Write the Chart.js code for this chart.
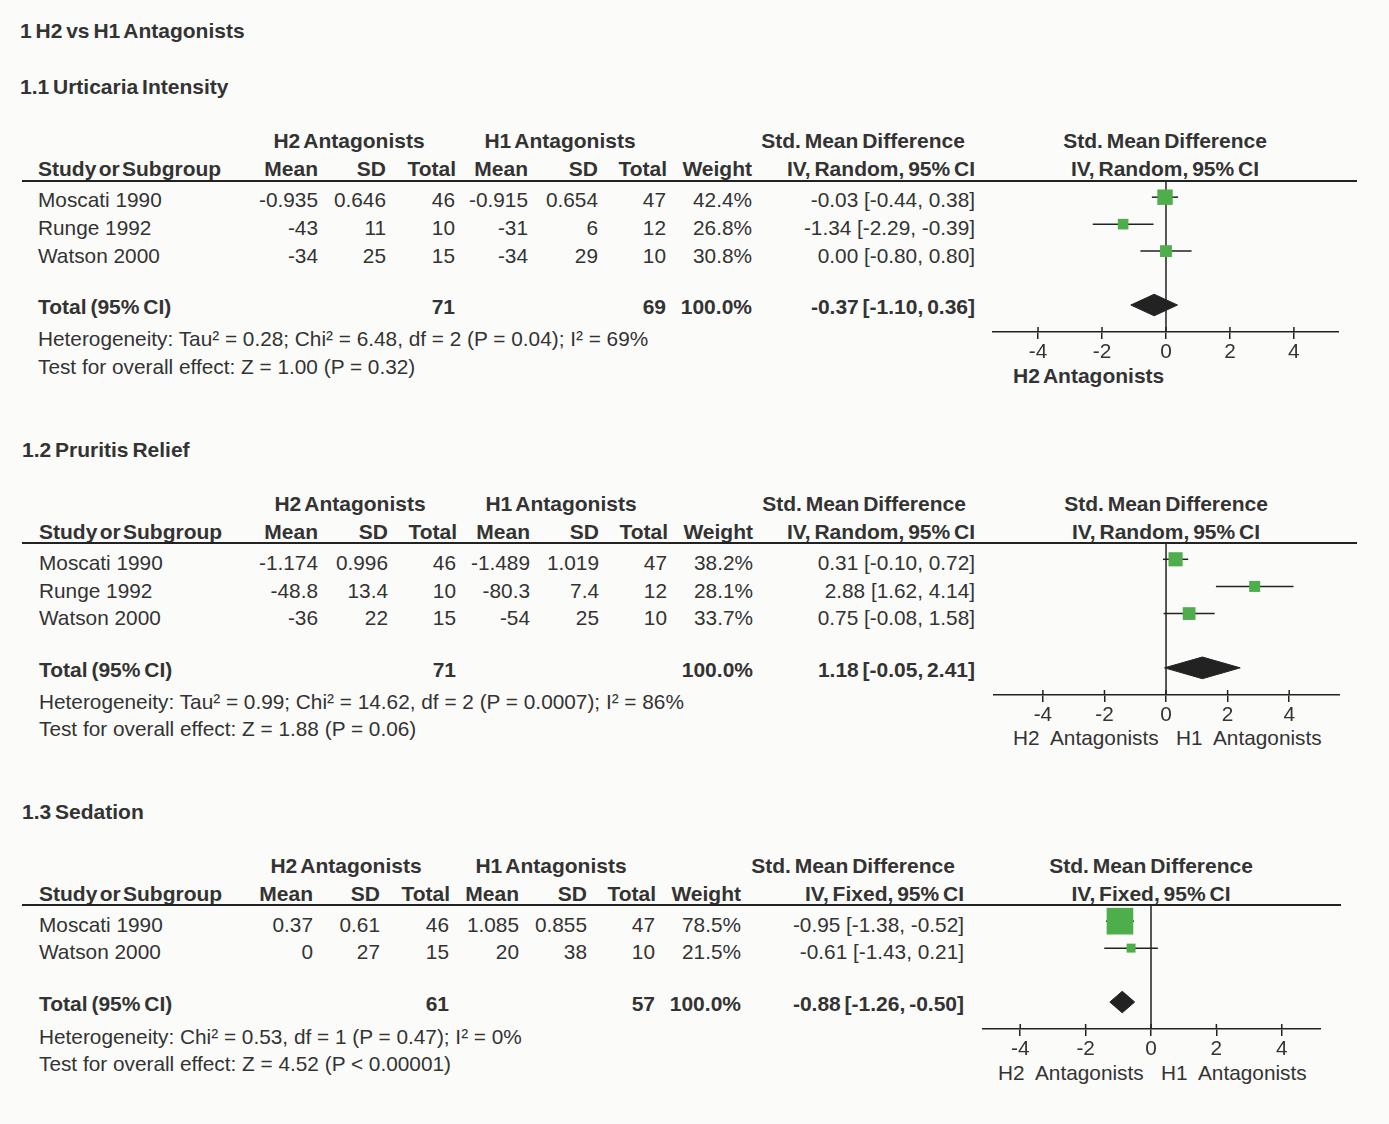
<!DOCTYPE html>
<html>
<head>
<meta charset="utf-8">
<title>H2 vs H1 Antagonists</title>
<script src="https://cdn.jsdelivr.net/npm/chart.js@4.4.1/dist/chart.umd.min.js"></script>
<style>
  html, body { margin: 0; padding: 0; background: #fbfcf9; }
  #page {
    position: relative;
    width: 1389px;
    height: 1124px;
    overflow: hidden;
    font-family: "Liberation Sans", Arial, sans-serif;
    color: #333;
  }
  .t { position: absolute; white-space: pre; font-size: 20.8px; line-height: 24px; }
  .h { font-size: 21px; font-weight: bold; word-spacing: -2px; }
  .b { font-size: 21px; font-weight: bold; word-spacing: -2px; }
  .s { word-spacing: -3.5px; }
  .r { transform: translateX(-100%); }
  .c { transform: translateX(-50%); }
  .rule { position: absolute; height: 2px; background: #222; }
  canvas { position: absolute; }
</style>
</head>
<body>
<div id="page"></div>
<script>
const xTicks = [-4, -2, 0, 2, 4];

// 1.1 Urticaria Intensity
const urtStudies = ['Moscati 1990', 'Runge 1992', 'Watson 2000'];
const urtH2Mean = ['-0.935', '-43', '-34'];
const urtH2SD = ['0.646', '11', '25'];
const urtH2N = ['46', '10', '15'];
const urtH1Mean = ['-0.915', '-31', '-34'];
const urtH1SD = ['0.654', '6', '29'];
const urtH1N = ['47', '12', '10'];
const urtWeight = [42.4, 26.8, 30.8];
const urtSMD = [-0.03, -1.34, 0.00];
const urtLo = [-0.44, -2.29, -0.80];
const urtHi = [0.38, -0.39, 0.80];
const urtTotals = ['71', '69'];
const urtPooled = [-0.37, -1.10, 0.36];

// 1.2 Pruritis Relief
const prStudies = ['Moscati 1990', 'Runge 1992', 'Watson 2000'];
const prH2Mean = ['-1.174', '-48.8', '-36'];
const prH2SD = ['0.996', '13.4', '22'];
const prH2N = ['46', '10', '15'];
const prH1Mean = ['-1.489', '-80.3', '-54'];
const prH1SD = ['1.019', '7.4', '25'];
const prH1N = ['47', '12', '10'];
const prWeight = [38.2, 28.1, 33.7];
const prSMD = [0.31, 2.88, 0.75];
const prLo = [-0.10, 1.62, -0.08];
const prHi = [0.72, 4.14, 1.58];
const prTotals = ['71', ''];
const prPooled = [1.18, -0.05, 2.41];

// 1.3 Sedation
const sedStudies = ['Moscati 1990', 'Watson 2000'];
const sedH2Mean = ['0.37', '0'];
const sedH2SD = ['0.61', '27'];
const sedH2N = ['46', '15'];
const sedH1Mean = ['1.085', '20'];
const sedH1SD = ['0.855', '38'];
const sedH1N = ['47', '10'];
const sedWeight = [78.5, 21.5];
const sedSMD = [-0.95, -0.61];
const sedLo = [-1.38, -1.43];
const sedHi = [-0.52, 0.21];
const sedTotals = ['61', '57'];
const sedPooled = [-0.88, -1.26, -0.50];

const INK = '#222';
const GREEN = '#4fae4c';
const FONT = '"Liberation Sans", Arial, sans-serif';

// box side grows with the study weight
const boxSide = w => 2.3 + 0.31 * w;

const sections = [
  {
    title: '1.1 Urticaria Intensity', method: 'IV, Random, 95% CI',
    studies: urtStudies, cols: [urtH2Mean, urtH2SD, urtH2N, urtH1Mean, urtH1SD, urtH1N],
    weight: urtWeight, smd: urtSMD, lo: urtLo, hi: urtHi, totals: urtTotals, pooled: urtPooled,
    het: 'Heterogeneity: Tau² = 0.28; Chi² = 6.48, df = 2 (P = 0.04); I² = 69%',
    test: 'Test for overall effect: Z = 1.00 (P = 0.32)',
    axisLabel: 'H2 Antagonists', axisBold: true,
    // layout
    titleX: 20, titleY: 87, hdr1Y: 141, hdr2Y: 169, lineY: 181, lineEnd: 1357,
    rowY: [200, 228, 256], totalY: 307, hetY: 339, testY: 367, leftX: 38,
    colX: [318, 386, 455, 528, 598, 666, 752, 975], hdrX: [349, 560, 863, 1165],
    plot: { left: 992, right: 1339, axisY: 332, xMin: -5.44, xMax: 5.41 },
    labelX: 1013, labelY: 376
  },
  {
    title: '1.2 Pruritis Relief', method: 'IV, Random, 95% CI',
    studies: prStudies, cols: [prH2Mean, prH2SD, prH2N, prH1Mean, prH1SD, prH1N],
    weight: prWeight, smd: prSMD, lo: prLo, hi: prHi, totals: prTotals, pooled: prPooled,
    het: 'Heterogeneity: Tau² = 0.99; Chi² = 14.62, df = 2 (P = 0.0007); I² = 86%',
    test: 'Test for overall effect: Z = 1.88 (P = 0.06)',
    axisLabel: 'H2  Antagonists   H1  Antagonists', axisBold: false,
    titleX: 22, titleY: 450, hdr1Y: 504, hdr2Y: 532, lineY: 543, lineEnd: 1357,
    rowY: [563, 591, 618], totalY: 670, hetY: 702, testY: 729, leftX: 39,
    colX: [318, 388, 456, 530, 599, 667, 753, 975], hdrX: [350, 561, 864, 1166],
    plot: { left: 993, right: 1340, axisY: 695, xMin: -5.62, xMax: 5.65 },
    labelX: 1013, labelY: 738
  },
  {
    title: '1.3 Sedation', method: 'IV, Fixed, 95% CI',
    studies: sedStudies, cols: [sedH2Mean, sedH2SD, sedH2N, sedH1Mean, sedH1SD, sedH1N],
    weight: sedWeight, smd: sedSMD, lo: sedLo, hi: sedHi, totals: sedTotals, pooled: sedPooled,
    het: 'Heterogeneity: Chi² = 0.53, df = 1 (P = 0.47); I² = 0%',
    test: 'Test for overall effect: Z = 4.52 (P < 0.00001)',
    axisLabel: 'H2  Antagonists   H1  Antagonists', axisBold: false,
    titleX: 22, titleY: 812, hdr1Y: 866, hdr2Y: 894, lineY: 905, lineEnd: 1341,
    rowY: [925, 952], totalY: 1004, hetY: 1037, testY: 1064, leftX: 39,
    colX: [313, 380, 449, 519, 587, 655, 741, 964], hdrX: [346, 551, 853, 1151],
    plot: { left: 982, right: 1321, axisY: 1029, xMin: -5.17, xMax: 5.2 },
    labelX: 998, labelY: 1073
  }
];

const page = document.getElementById('page');

function text(x, y, s, cls) {
  const d = document.createElement('div');
  d.className = 't ' + (cls || '');
  d.textContent = s;
  d.style.left = x + 'px';
  d.style.top = (y - 12) + 'px';
  page.appendChild(d);
  return d;
}

function rule(x1, x2, y) {
  const d = document.createElement('div');
  d.className = 'rule';
  d.style.left = x1 + 'px';
  d.style.width = (x2 - x1) + 'px';
  d.style.top = (y - 1) + 'px';
  page.appendChild(d);
}

const ci = (m, lo, hi) => `${m.toFixed(2)} [${lo.toFixed(2)}, ${hi.toFixed(2)}]`;

// tick marks crossing the axis line (Chart.js only draws them below)
const crossTicks = {
  id: 'crossTicks',
  afterDraw(chart) {
    const sx = chart.scales.x;
    const ctx = chart.ctx;
    const y = chart.chartArea.bottom;
    ctx.save();
    ctx.strokeStyle = INK;
    ctx.lineWidth = 1.5;
    sx.ticks.forEach(t => {
      const px = sx.getPixelForValue(t.value);
      ctx.beginPath();
      ctx.moveTo(px, y - 5);
      ctx.lineTo(px, y);
      ctx.stroke();
    });
    ctx.restore();
  }
};

function drawForest(s) {
  const P = s.plot;
  const n = s.smd.length;
  const axisH = 34;
  const cv = document.createElement('canvas');
  cv.width = P.right - P.left;
  cv.height = P.axisY - s.lineY + axisH;
  cv.style.left = P.left + 'px';
  cv.style.top = s.lineY + 'px';
  page.appendChild(cv);

  const totalRow = n + 1;
  const h = 0.4;
  const [est, plo, phi] = s.pooled;

  const datasets = [
    {
      data: s.smd.map((v, i) => ({ x: v, y: i })),
      pointStyle: 'rect',
      pointRadius: s.weight.map(w => boxSide(w) / Math.SQRT2),
      backgroundColor: GREEN,
      borderWidth: 0,
      order: 0
    },
    {
      data: [
        { x: plo, y: totalRow }, { x: est, y: totalRow - h },
        { x: phi, y: totalRow }, { x: est, y: totalRow + h }, { x: plo, y: totalRow }
      ],
      showLine: true, fill: 'shape',
      backgroundColor: INK, borderColor: INK, borderWidth: 1,
      pointRadius: 0, order: 1
    }
  ];
  s.smd.forEach((v, i) => {
    datasets.push({
      data: [{ x: s.lo[i], y: i }, { x: s.hi[i], y: i }],
      showLine: true, borderColor: INK, borderWidth: 1.5, pointRadius: 0, order: 2
    });
  });
  datasets.push({
    data: [{ x: 0, y: -0.6 }, { x: 0, y: n + 2 }],
    showLine: true, borderColor: INK, borderWidth: 1.5, pointRadius: 0, order: 3
  });

  new Chart(cv, {
    type: 'scatter',
    data: { datasets },
    options: {
      responsive: false,
      animation: false,
      events: [],
      layout: { autoPadding: false, padding: 0 },
      plugins: { legend: { display: false }, tooltip: { enabled: false } },
      scales: {
        x: {
          type: 'linear',
          min: P.xMin,
          max: P.xMax,
          afterBuildTicks: sc => { sc.ticks = xTicks.map(v => ({ value: v })); },
          afterFit: sc => { sc.height = axisH; },
          ticks: { font: { family: FONT, size: 20.8 }, color: '#333', padding: 1, maxRotation: 0, autoSkip: false },
          grid: { drawOnChartArea: false, tickLength: 7, color: INK, lineWidth: 1.5 },
          border: { display: true, color: INK, width: 1.5 }
        },
        y: { type: 'linear', reverse: true, min: -0.6, max: n + 2, display: false }
      }
    },
    plugins: [crossTicks]
  });
}

text(20, 31, '1 H2 vs H1 Antagonists', 'h');

sections.forEach(s => {
  const C = s.colX;
  text(s.titleX, s.titleY, s.title, 'h');

  text(s.hdrX[0], s.hdr1Y, 'H2 Antagonists', 'b c');
  text(s.hdrX[1], s.hdr1Y, 'H1 Antagonists', 'b c');
  text(s.hdrX[2], s.hdr1Y, 'Std. Mean Difference', 'b c');
  text(s.hdrX[3], s.hdr1Y, 'Std. Mean Difference', 'b c');

  text(s.leftX, s.hdr2Y, 'Study or Subgroup', 'b s');
  ['Mean', 'SD', 'Total', 'Mean', 'SD', 'Total', 'Weight', s.method].forEach((lab, i) => {
    text(C[i] + (lab === 'Total' ? 1 : 0), s.hdr2Y, lab, 'b r');
  });
  text(s.hdrX[3], s.hdr2Y, s.method, 'b c');
  rule(22, s.lineEnd, s.lineY);

  s.studies.forEach((name, i) => {
    const y = s.rowY[i];
    text(s.leftX, y, name);
    s.cols.forEach((col, j) => text(C[j], y, col[i], 'r'));
    text(C[6], y, s.weight[i].toFixed(1) + '%', 'r');
    text(C[7], y, ci(s.smd[i], s.lo[i], s.hi[i]), 'r');
  });

  text(s.leftX, s.totalY, 'Total (95% CI)', 'b');
  text(C[2], s.totalY, s.totals[0], 'b r');
  if (s.totals[1]) text(C[5], s.totalY, s.totals[1], 'b r');
  text(C[6], s.totalY, '100.0%', 'b r');
  text(C[7], s.totalY, ci(s.pooled[0], s.pooled[1], s.pooled[2]), 'b r');

  text(s.leftX, s.hetY, s.het);
  text(s.leftX, s.testY, s.test);

  text(s.labelX, s.labelY, s.axisLabel, s.axisBold ? 'b' : '');

  drawForest(s);
});
</script>
</body>
</html>
